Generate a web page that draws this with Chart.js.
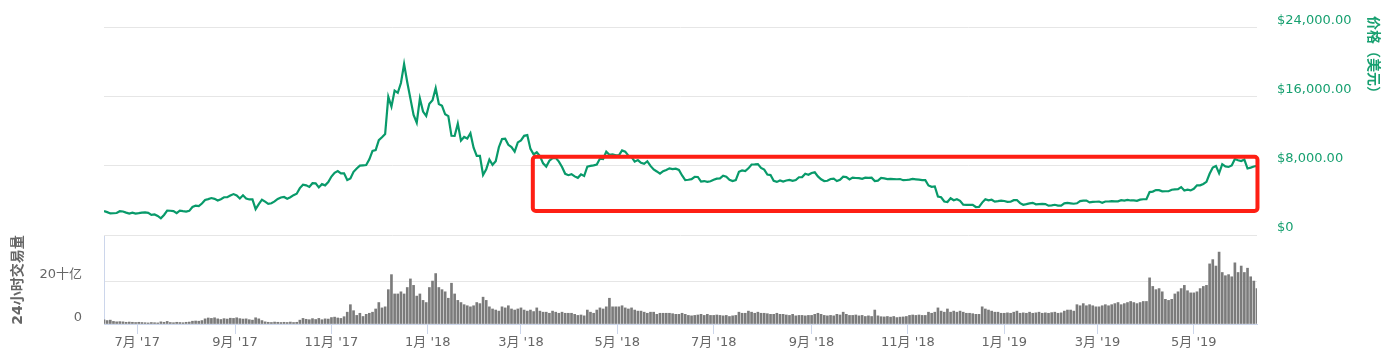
<!DOCTYPE html>
<html>
<head>
<meta charset="utf-8">
<script src="https://cdn.jsdelivr.net/npm/chart.js@4.4.1/dist/chart.umd.min.js"></script>
<style>
  body { margin: 0; background: #fff; }
  #wrap { position: relative; width: 1399px; height: 361px; }
  canvas { position: absolute; left: 0; top: 0; }
</style>
</head>
<body>
<div id="wrap">
  <canvas id="priceChart" width="1399" height="361"></canvas>
  <canvas id="volumeChart" width="1399" height="361"></canvas>
</div>
<script>
// one point every 2 days, first point = 10 Jun 2017
var STEP = 2;

// price, USD
var price = [
  // Jun 2017
  2780, 2650, 2500, 2520, 2550, 2760, 2720, 2590, 2480, 2590, 2480,
  // Jul
  2530, 2600, 2610, 2560, 2330, 2380, 2210, 1930, 2320, 2820, 2810, 2760, 2530, 2810, 2760,
  // Aug
  2720, 2800, 3250, 3390, 3340, 3650, 4060, 4160, 4280, 4190, 4000, 4150, 4370, 4380, 4580, 4740,
  // Sep
  4580, 4230, 4600, 4230, 4120, 4130, 3000, 3580, 4090, 3870, 3610, 3680, 3890, 4170, 4340,
  // Oct
  4410, 4210, 4370, 4610, 4780, 5430, 5830, 5750, 5570, 6000, 5980, 5510, 5890, 5750, 6130,
  // Nov
  6770, 7210, 7410, 7140, 7140, 6360, 6560, 7320, 7710, 8040, 8070, 8100, 8760, 9740, 9840,
  // Dec
  10980, 11320, 11700, 16000, 14870, 16730, 16470, 17600, 19800, 17700, 15800, 13900, 13000, 15800, 14300, 13800,
  // Jan 2018
  15200, 15600, 17000, 15170, 14970, 13980, 13770, 11490, 11470, 12900, 10930, 11360, 11170, 11790, 10110,
  // Feb
  9170, 9170, 6960, 7620, 8740, 8130, 8550, 10170, 11110, 11150, 10440, 10180, 9660, 10730,
  // Mar
  10950, 11490, 11570, 9970, 9340, 9580, 9150, 8300, 7920, 8600, 8910, 8940, 8500, 7880, 7090, 6930,
  // Apr
  7050, 6790, 6620, 7020, 6830, 7920, 8000, 8060, 8160, 8850, 8800, 9650, 9280, 9350, 9240,
  // May
  9230, 9800, 9650, 9190, 9050, 8500, 8680, 8370, 8240, 8540, 8000, 7590, 7360, 7100, 7400,
  // Jun
  7540, 7720, 7630, 7680, 7530, 6900, 6350, 6400, 6470, 6740, 6720, 6190, 6250, 6160, 6220,
  // Jul
  6390, 6530, 6550, 6860, 6740, 6390, 6250, 6360, 7320, 7470, 7400, 7720, 8170, 8180, 8220, 7780,
  // Aug
  7570, 7010, 6940, 6280, 6150, 6320, 6190, 6310, 6390, 6270, 6360, 6690, 6710, 7090, 6980,
  // Sep
  7190, 7260, 6790, 6450, 6250, 6280, 6490, 6520, 6250, 6390, 6760, 6710, 6430, 6650, 6600,
  // Oct
  6590, 6500, 6640, 6620, 6640, 6250, 6300, 6600, 6550, 6470, 6500, 6480, 6460, 6480, 6350, 6370,
  // Nov
  6410, 6490, 6450, 6410, 6360, 6360, 5740, 5580, 5620, 4450, 4370, 3880, 3820, 4260, 4020,
  // Dec
  4140, 3960, 3510, 3490, 3500, 3490, 3240, 3250, 3750, 4150, 4010, 4080, 3860, 3920, 3990,
  // Jan 2019
  3940, 3840, 3850, 4030, 4050, 3690, 3500, 3580, 3670, 3730, 3560, 3580, 3600, 3580, 3400, 3440,
  // Feb
  3500, 3410, 3400, 3660, 3710, 3670, 3620, 3670, 3920, 3980, 3980, 3770, 3840, 3850,
  // Mar
  3870, 3730, 3880, 3880, 3930, 3900, 3900, 4030, 3990, 4060, 4000, 4000, 3950, 4090, 4140,
  // Apr
  4140, 4970, 5030, 5200, 5200, 5060, 5070, 5070, 5240, 5280, 5300, 5550, 5160, 5250, 5170,
  // May
  5350, 5750, 5750, 5910, 6160, 7090, 7810, 8000, 7150, 8200, 7950, 7880, 8050, 8810, 8660, 8560,
  // Jun
  8740, 7700, 7800, 7930, 8000
];

// 24h volume, billions USD
var volume = [
  // Jun 2017
  2.0, 1.6, 1.8, 1.2, 1.0, 1.1, 1.0, 0.8, 0.9, 0.8, 0.7,
  // Jul
  0.8, 0.7, 0.6, 0.5, 0.7, 0.6, 0.5, 1.0, 0.8, 1.2, 0.7, 0.6, 0.8, 0.7, 0.6,
  // Aug
  0.8, 0.9, 1.3, 1.4, 1.3, 1.6, 2.4, 2.8, 2.6, 2.9, 2.4, 2.1, 2.5, 2.3, 2.7, 2.6,
  // Sep
  2.9, 2.5, 2.3, 2.4, 2.0, 1.8, 2.9, 2.4, 1.6, 1.0, 0.8, 0.7, 0.9, 0.8, 0.7,
  // Oct
  0.8, 0.7, 0.9, 0.7, 0.8, 1.8, 2.6, 2.2, 2.0, 2.5, 2.1, 2.6, 2.0, 2.4, 2.3,
  // Nov
  3.0, 3.2, 2.8, 2.6, 3.4, 5.5, 9.0, 6.2, 4.0, 5.0, 3.5, 4.5, 5.0, 5.5, 7.0,
  // Dec
  10.0, 7.5, 8.0, 16.0, 23.0, 14.0, 14.0, 15.0, 14.0, 17.0, 21.0, 18.0, 13.0, 14.0, 11.0, 10.0,
  // Jan 2018
  17.0, 20.0, 23.5, 17.0, 16.0, 15.0, 12.0, 19.0, 14.0, 11.0, 10.0, 9.0, 8.5, 8.0, 8.5,
  // Feb
  10.0, 9.5, 12.5, 11.0, 8.0, 7.0, 6.5, 6.0, 8.0, 7.5, 8.5, 7.0, 6.5, 7.0,
  // Mar
  7.5, 6.5, 6.0, 6.5, 5.8, 7.5, 6.0, 5.5, 5.5, 5.0, 6.0, 5.5, 5.0, 5.5, 5.0, 5.0,
  // Apr
  5.0, 4.5, 4.0, 4.2, 3.8, 6.5, 5.5, 5.0, 6.5, 7.5, 7.0, 8.0, 12.0, 8.0, 8.0,
  // May
  8.0, 8.5, 7.5, 7.0, 7.5, 6.5, 6.0, 6.0, 5.5, 5.0, 5.5, 5.5, 4.5, 5.0, 5.0,
  // Jun
  5.0, 5.0, 4.8, 4.5, 4.5, 5.0, 4.5, 4.0, 3.8, 4.0, 4.2, 4.5, 4.0, 4.5, 4.0,
  // Jul
  4.0, 4.2, 4.0, 3.8, 4.0, 3.5, 3.8, 4.0, 5.5, 5.0, 5.0, 6.0, 5.5, 5.0, 5.5, 5.0,
  // Aug
  5.0, 4.8, 4.5, 4.5, 5.0, 4.5, 4.5, 4.2, 4.0, 4.5, 3.8, 4.0, 4.0, 3.8, 4.0,
  // Sep
  4.0, 4.5, 5.0, 4.5, 4.0, 3.8, 4.0, 3.8, 4.5, 4.2, 5.5, 4.5, 4.0, 4.0, 4.2,
  // Oct
  3.8, 4.0, 3.5, 3.8, 3.5, 6.5, 3.8, 3.4, 3.3, 3.5, 3.2, 3.5, 3.0, 3.2, 3.3, 3.5,
  // Nov
  4.0, 4.2, 4.0, 4.2, 4.0, 4.0, 5.5, 5.0, 5.5, 7.5, 6.0, 5.5, 7.0, 5.5, 6.0,
  // Dec
  5.5, 6.0, 5.5, 5.0, 5.0, 4.8, 4.5, 4.5, 8.0, 7.0, 6.5, 6.0, 5.5, 5.5, 5.0,
  // Jan 2019
  5.0, 5.2, 5.0, 5.5, 6.0, 5.0, 5.2, 5.0, 5.5, 5.0, 5.2, 5.5, 5.0, 5.2, 5.0, 5.3,
  // Feb
  5.5, 5.0, 5.2, 6.0, 6.5, 6.5, 6.0, 9.0, 8.5, 9.5, 8.5, 9.0, 8.5, 8.0,
  // Mar
  8.0, 8.5, 9.0, 8.5, 9.0, 9.5, 10.0, 9.0, 9.5, 10.0, 10.5, 10.0, 9.5, 10.0, 10.5,
  // Apr
  10.5, 21.5, 17.5, 16.0, 16.5, 15.0, 11.5, 11.0, 11.5, 14.0, 15.0, 16.5, 18.0, 15.5, 14.5,
  // May
  14.5, 15.0, 16.5, 17.5, 18.0, 28.0, 30.0, 27.0, 33.5, 24.0, 22.5, 23.0, 22.0, 28.5, 24.0, 27.0,
  // Jun
  24.0, 26.0, 22.0, 20.0, 16.5
];

// month ticks: days since 10 Jun 2017
var monthTicks = [21, 83, 144, 205, 264, 325, 386, 448, 509, 570, 629, 690];
var monthLabels = ["7月 '17", "9月 '17", "11月 '17", "1月 '18", "3月 '18", "5月 '18",
                   "7月 '18", "9月 '18", "11月 '18", "1月 '19", "3月 '19", "5月 '19"];

var priceTicks = [0, 8000, 16000, 24000];
var priceTickLabels = ['$0', '$8,000.00', '$16,000.00', '$24,000.00'];
var volumeTicks = [0, 20];
var volumeTickLabels = ['0', '20十亿'];

// highlighted range (days, price)
var boxDays = [271.5, 730.3];
var boxPrices = [9070, 2790];

var LAST_DAY = 730;
var green = '#089a6a';
var labelGreen = '#17a070';

Chart.defaults.font.family = "'DejaVu Sans', 'Noto Sans CJK SC', sans-serif";
Chart.defaults.font.size = 13;

var boxPlugin = {
    id: 'box',
    afterDatasetsDraw: function (chart) {
        var xs = chart.scales.x, ys = chart.scales.y, c = chart.ctx;
        var x1 = xs.getPixelForValue(boxDays[0]), x2 = xs.getPixelForValue(boxDays[1]);
        var y1 = ys.getPixelForValue(boxPrices[0]), y2 = ys.getPixelForValue(boxPrices[1]);
        c.save();
        c.strokeStyle = '#fe1f14';
        c.lineWidth = 4;
        c.beginPath();
        c.roundRect(x1, y1, x2 - x1, y2 - y1, 3);
        c.stroke();
        c.restore();
    }
};

var priceTitle = {
    id: 'priceTitle',
    afterDraw: function (chart) {
        var c = chart.ctx;
        c.save();
        c.translate(1373, 16);
        c.rotate(Math.PI / 2);
        c.font = "bold 14px 'DejaVu Sans', 'Noto Sans CJK SC', sans-serif";
        c.fillStyle = labelGreen;
        c.textAlign = 'left';
        c.textBaseline = 'middle';
        c.fillText('价格（美元）', 0, 0);
        c.restore();
    }
};

var priceCtx = document.getElementById('priceChart').getContext('2d');
var priceChart = new Chart(priceCtx, {
    type: 'line',
    data: {
        datasets: [{
            data: price.map(function (v, i) { return { x: i * STEP, y: v }; }),
            borderColor: green,
            borderWidth: 2.2,
            pointRadius: 0,
            tension: 0,
            fill: false
        }]
    },
    options: {
        responsive: false,
        animation: false,
        layout: { padding: { top: 26, bottom: 126, left: 104, right: 0 } },
        plugins: {
            legend: { display: false },
            tooltip: { enabled: false }
        },
        scales: {
            x: { type: 'linear', min: 0, max: LAST_DAY, display: false },
            y: {
                position: 'right',
                min: 0,
                max: 24000,
                afterBuildTicks: function (s) { s.ticks = priceTicks.map(function (v) { return { value: v }; }); },
                afterFit: function (s) { s.width = 142; },
                grid: { color: '#e6e6e6', drawTicks: false },
                border: { display: false },
                ticks: {
                    padding: 20,
                    labelOffset: -7,
                    color: labelGreen,
                    callback: function (v, i) { return priceTickLabels[i]; }
                }
            }
        }
    },
    plugins: [boxPlugin, priceTitle]
});

var volumeCtx = document.getElementById('volumeChart').getContext('2d');
var volumeChart = new Chart(volumeCtx, {
    type: 'bar',
    data: {
        datasets: [{
            data: volume.map(function (v, i) { return { x: i * STEP, y: v }; }),
            backgroundColor: '#7b7b7b',
            borderWidth: 0,
            barThickness: 2
        }]
    },
    options: {
        responsive: false,
        animation: false,
        layout: { padding: { top: 236, bottom: 0, left: 0, right: 142 } },
        plugins: {
            legend: { display: false },
            tooltip: { enabled: false }
        },
        scales: {
            x: {
                type: 'linear',
                min: 0,
                max: LAST_DAY,
                offset: false,
                afterBuildTicks: function (s) { s.ticks = monthTicks.map(function (v) { return { value: v }; }); },
                afterFit: function (s) { s.height = 37; },
                grid: { offset: false, drawOnChartArea: false, color: '#ccd6eb', tickLength: 10 },
                border: { color: '#ccd6eb' },
                ticks: {
                    autoSkip: false,
                    maxRotation: 0,
                    padding: 1,
                    color: '#666666',
                    callback: function (v, i) { return monthLabels[i]; }
                }
            },
            y: {
                position: 'left',
                min: 0,
                max: 41,
                afterBuildTicks: function (s) { s.ticks = volumeTicks.map(function (v) { return { value: v }; }); },
                afterFit: function (s) { s.width = 104; },
                grid: { color: '#e6e6e6', drawTicks: false },
                border: { color: '#ccd6eb' },
                ticks: {
                    padding: 22,
                    labelOffset: -6,
                    color: '#666666',
                    callback: function (v, i) { return volumeTickLabels[i]; }
                },
                title: {
                    display: true,
                    text: '24小时交易量',
                    color: '#666666',
                    font: { size: 14, weight: 'bold' },
                    padding: { top: 10, bottom: 0 }
                }
            }
        }
    }
});
</script>
</body>
</html>
